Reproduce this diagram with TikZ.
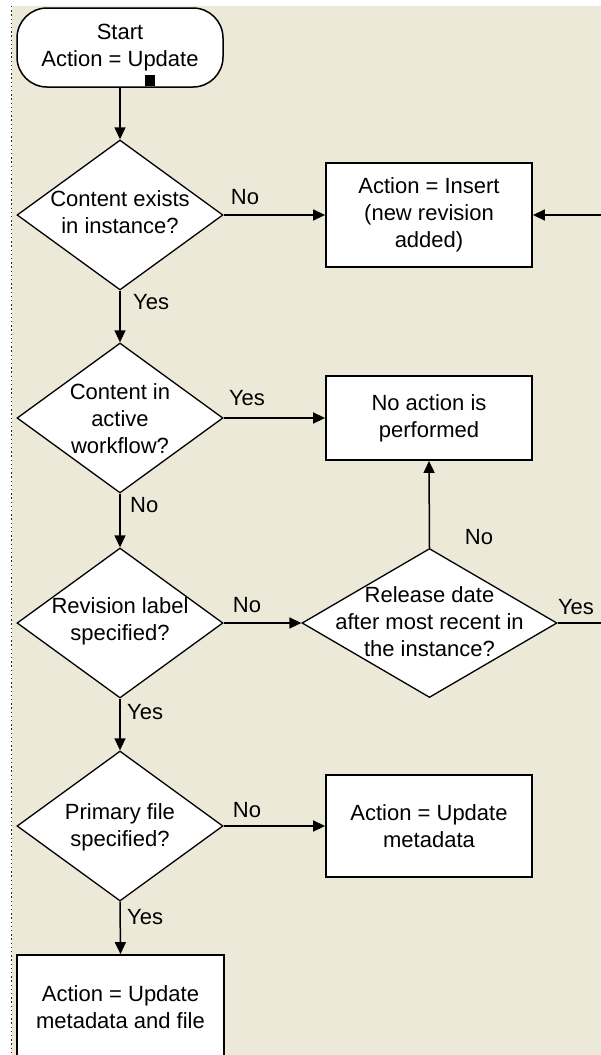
\documentclass[tikz,border=0pt]{standalone}
\usepackage{fontspec}
\setmainfont{Liberation Sans}
\usetikzlibrary{shapes.geometric,arrows.meta}
\definecolor{xpbeige}{HTML}{ECE9D8}
\begin{document}
\begin{tikzpicture}[x=1pt,y=-1pt,
  txt/.style={font=\fontsize{22}{27}\selectfont, align=center, inner sep=0pt},
  lbl/.style={font=\fontsize{22}{27}\selectfont, inner sep=0pt},
  procbox/.style={draw, line width=1.8pt, fill=white, minimum width=206pt, inner sep=0pt, font=\fontsize{22}{27}\selectfont, align=center},
  decision/.style={draw, diamond, line width=1.3pt, fill=white, inner sep=0pt, minimum width=206pt, minimum height=150pt},
  terminal/.style={draw, line width=1.5pt, fill=white, rounded corners=30pt, minimum width=206pt, minimum height=79pt, inner sep=0pt, font=\fontsize{22}{27}\selectfont, align=center},
  flow/.style={line width=1.5pt, -{Triangle[length=12pt,width=11pt]}},
  plainline/.style={line width=1.5pt}
]
\useasboundingbox (0,0) rectangle (601,1055);
\clip (0,0) rectangle (601,1055);
% background
\fill[white] (0,0) rectangle (601,1055);
\fill[xpbeige] (12,6) rectangle (601,1055);
\draw[line width=1.4pt, black!85, dash pattern=on 1.4pt off 2.8pt] (11.5,6) -- (11.5,1055);

% shapes
\node[terminal] (start) at (120,47.5) {Start\\Action = Update};
\node[fill=black, minimum width=10pt, minimum height=11pt, inner sep=0pt] (handle) at (150,80.5) {};

\node[decision] (d1) at (120,215) {};
\node[txt] (d1t) at (120,212.5) {Content exists\\in instance?};

\node[procbox, minimum height=104pt] (insert) at (429,215) {Action = Insert\\(new revision\\added)};

\node[decision] (d2) at (120,418) {};
\node[txt] (d2t) at (120,419) {Content in\\active\\workflow?};

\node[procbox, minimum height=84pt] (noact) at (429,418) {No action is\\performed};

\node[decision] (d3) at (120,623) {};
\node[txt] (d3t) at (120,621) {Revision label\\specified?};

\node[decision, minimum width=255pt, minimum height=149pt] (rel) at (429.5,623) {};
\node[txt] (relt) at (429.5,622) {Release date\\after most recent in\\the instance?};

\node[decision] (d4) at (120,826) {};
\node[txt] (d4t) at (120,827) {Primary file\\specified?};

\node[procbox, minimum height=102pt] (updmeta) at (429,826) {Action = Update\\metadata};

\node[procbox, minimum width=207pt, minimum height=104pt] (final) at (120.5,1007) {Action = Update\\metadata and file};

\coordinate (rin) at (601,215);
\coordinate (rout) at (601,623);

% connectors
\draw[flow] (start.south) -- (d1.north);
\draw[flow] (d1.east) -- (insert.west);
\draw[flow] (rin) -- (insert.east);
\draw[flow] (d1.south) -- (d2.north);
\draw[flow] (d2.east) -- (noact.west);
\draw[flow] (d2.south) -- (d3.north);
\draw[flow] (d3.east) -- (rel.west);
\draw[flow] (rel.north) -- (noact.south);
\draw[plainline] (rel.east) -- (rout);
\draw[flow] (d3.south) -- (d4.north);
\draw[flow] (d4.east) -- (updmeta.west);
\draw[flow] (d4.south) -- (final.north);

% labels
\node[lbl] (l1) at (245,197) {No};
\node[lbl, anchor=west] (l2) at (133,302) {Yes};
\node[lbl] (l3) at (247,398) {Yes};
\node[lbl, anchor=west] (l4) at (130,505) {No};
\node[lbl] (l5) at (247,605) {No};
\node[lbl] (l6) at (479,537) {No};
\node[lbl] (l7) at (576,607) {Yes};
\node[lbl, anchor=west] (l8) at (127,712) {Yes};
\node[lbl] (l9) at (247,810) {No};
\node[lbl, anchor=west] (l10) at (127,917) {Yes};
\end{tikzpicture}
\end{document}
